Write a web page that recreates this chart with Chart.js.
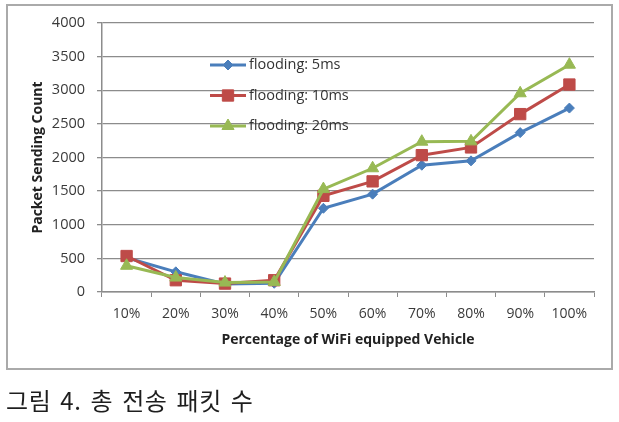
<!DOCTYPE html>
<html>
<head>
<meta charset="utf-8">
<script src="https://cdn.jsdelivr.net/npm/chart.js@4.4.1/dist/chart.umd.min.js"></script>
<style>
  body { margin: 0; background: #fff; }
  #wrap { position: relative; width: 619px; height: 422px; overflow: hidden; }
  #frame { position: absolute; left: 6px; top: 4px; width: 603px; height: 362px; border: 2px solid #aaaaaa; }
  #myChart { position: absolute; left: 0; top: 0; }
  #caption { position: absolute; left: 6px; top: 385px; font-family: "Noto Sans CJK KR", sans-serif; font-size: 24px; line-height: 30px; color: #1e1e1e; letter-spacing: 0.6px; word-spacing: 3px; font-weight: 400; }
</style>
</head>
<body>
<div id="wrap">
  <div id="frame"></div>
  <canvas id="myChart" width="619" height="422"></canvas>
  <div id="caption">그림 4. 총 전송 패킷 수</div>
</div>
<script>
// chart data
const categories = ['10%', '20%', '30%', '40%', '50%', '60%', '70%', '80%', '90%', '100%'];
const flooding5 = [510, 300, 120, 130, 1245, 1455, 1885, 1950, 2370, 2735];
const flooding10 = [535, 175, 125, 175, 1430, 1645, 2035, 2150, 2645, 3085];
const flooding20 = [390, 215, 140, 150, 1530, 1840, 2235, 2240, 2955, 3380];
const seriesNames = ['flooding: 5ms', 'flooding: 10ms', 'flooding: 20ms'];
const yTicks = [0, 500, 1000, 1500, 2000, 2500, 3000, 3500, 4000];

Chart.defaults.font.family = "'Open Sans', sans-serif";
Chart.defaults.color = '#3a3a3a';

// legend drawn inside the plot, like the original
const legendInPlot = {
    id: 'legendInPlot',
    afterDraw(chart) {
        const ctx = chart.ctx;
        const a = chart.chartArea;
        chart.data.datasets.forEach((ds, i) => {
            const y = a.top + 42 + i * 30.5;
            const x0 = a.left + 108;
            const x1 = x0 + 36;
            ctx.save();
            ctx.strokeStyle = ds.borderColor;
            ctx.fillStyle = ds.backgroundColor;
            ctx.lineWidth = 3;
            ctx.beginPath();
            ctx.moveTo(x0, y);
            ctx.lineTo(x1, y);
            ctx.stroke();
            ctx.lineWidth = 1;
            Chart.helpers.drawPoint(ctx, {
                pointStyle: ds.pointStyle,
                radius: ds.pointRadius,
                rotation: 0,
                borderWidth: 1
            }, (x0 + x1) / 2, y);
            ctx.fillStyle = '#333';
            ctx.font = "14.5px 'Open Sans', sans-serif";
            ctx.textBaseline = 'middle';
            ctx.textAlign = 'left';
            ctx.fillText(ds.label, x1 + 3, y);
            ctx.restore();
        });
    }
};

const ctx = document.getElementById('myChart').getContext('2d');

const myChart = new Chart(ctx, {
    type: 'line',
    data: {
        labels: categories,
        datasets: [{
            label: seriesNames[0],
            data: flooding5,
            borderColor: '#4a7ebb',
            backgroundColor: '#4a7ebb',
            borderWidth: 3,
            pointStyle: 'rectRot',
            pointRadius: 5,
            pointBorderWidth: 1,
            order: 3
        }, {
            label: seriesNames[1],
            data: flooding10,
            borderColor: '#be4b48',
            backgroundColor: '#be4b48',
            borderWidth: 3,
            pointStyle: 'rect',
            pointRadius: 8,
            pointBorderWidth: 1,
            order: 2
        }, {
            label: seriesNames[2],
            data: flooding20,
            borderColor: '#98b954',
            backgroundColor: '#98b954',
            borderWidth: 3,
            pointStyle: 'triangle',
            pointRadius: 7,
            pointBorderWidth: 1,
            order: 1
        }]
    },
    options: {
        responsive: false,
        animation: false,
        devicePixelRatio: 1,
        layout: {
            padding: { left: 0, top: 23, right: 25, bottom: 70 }
        },
        plugins: {
            legend: { display: false },
            tooltip: { enabled: false }
        },
        scales: {
            x: {
                offset: true,
                grid: {
                    offset: true,
                    drawOnChartArea: false,
                    tickLength: 5,
                    color: '#8c8c8c'
                },
                border: { color: '#8c8c8c', width: 1.5 },
                ticks: {
                    padding: 9,
                    maxRotation: 0,
                    font: { size: 14 }
                },
                title: {
                    display: true,
                    text: 'Percentage of WiFi equipped Vehicle',
                    color: '#222',
                    font: { size: 14, weight: 'bold' },
                    padding: { top: 0, bottom: 4 }
                },
                afterFit: (scale) => { scale.height = 60; }
            },
            y: {
                min: 0,
                max: 4000,
                afterBuildTicks: (scale) => { scale.ticks = yTicks.map(v => ({ value: v })); },
                grid: {
                    color: '#8c8c8c',
                    lineWidth: 1.3,
                    tickLength: 5
                },
                border: { color: '#8c8c8c', width: 1.5 },
                ticks: {
                    padding: 12,
                    font: { size: 14.5 },
                    callback: (v) => String(v)
                },
                title: {
                    display: true,
                    text: 'Packet Sending Count',
                    color: '#222',
                    font: { size: 14, weight: 'bold' },
                    padding: { top: 30, bottom: 0 }
                },
                afterFit: (scale) => { scale.width = 102; }
            }
        }
    },
    plugins: [legendInPlot]
});
</script>
</body>
</html>
